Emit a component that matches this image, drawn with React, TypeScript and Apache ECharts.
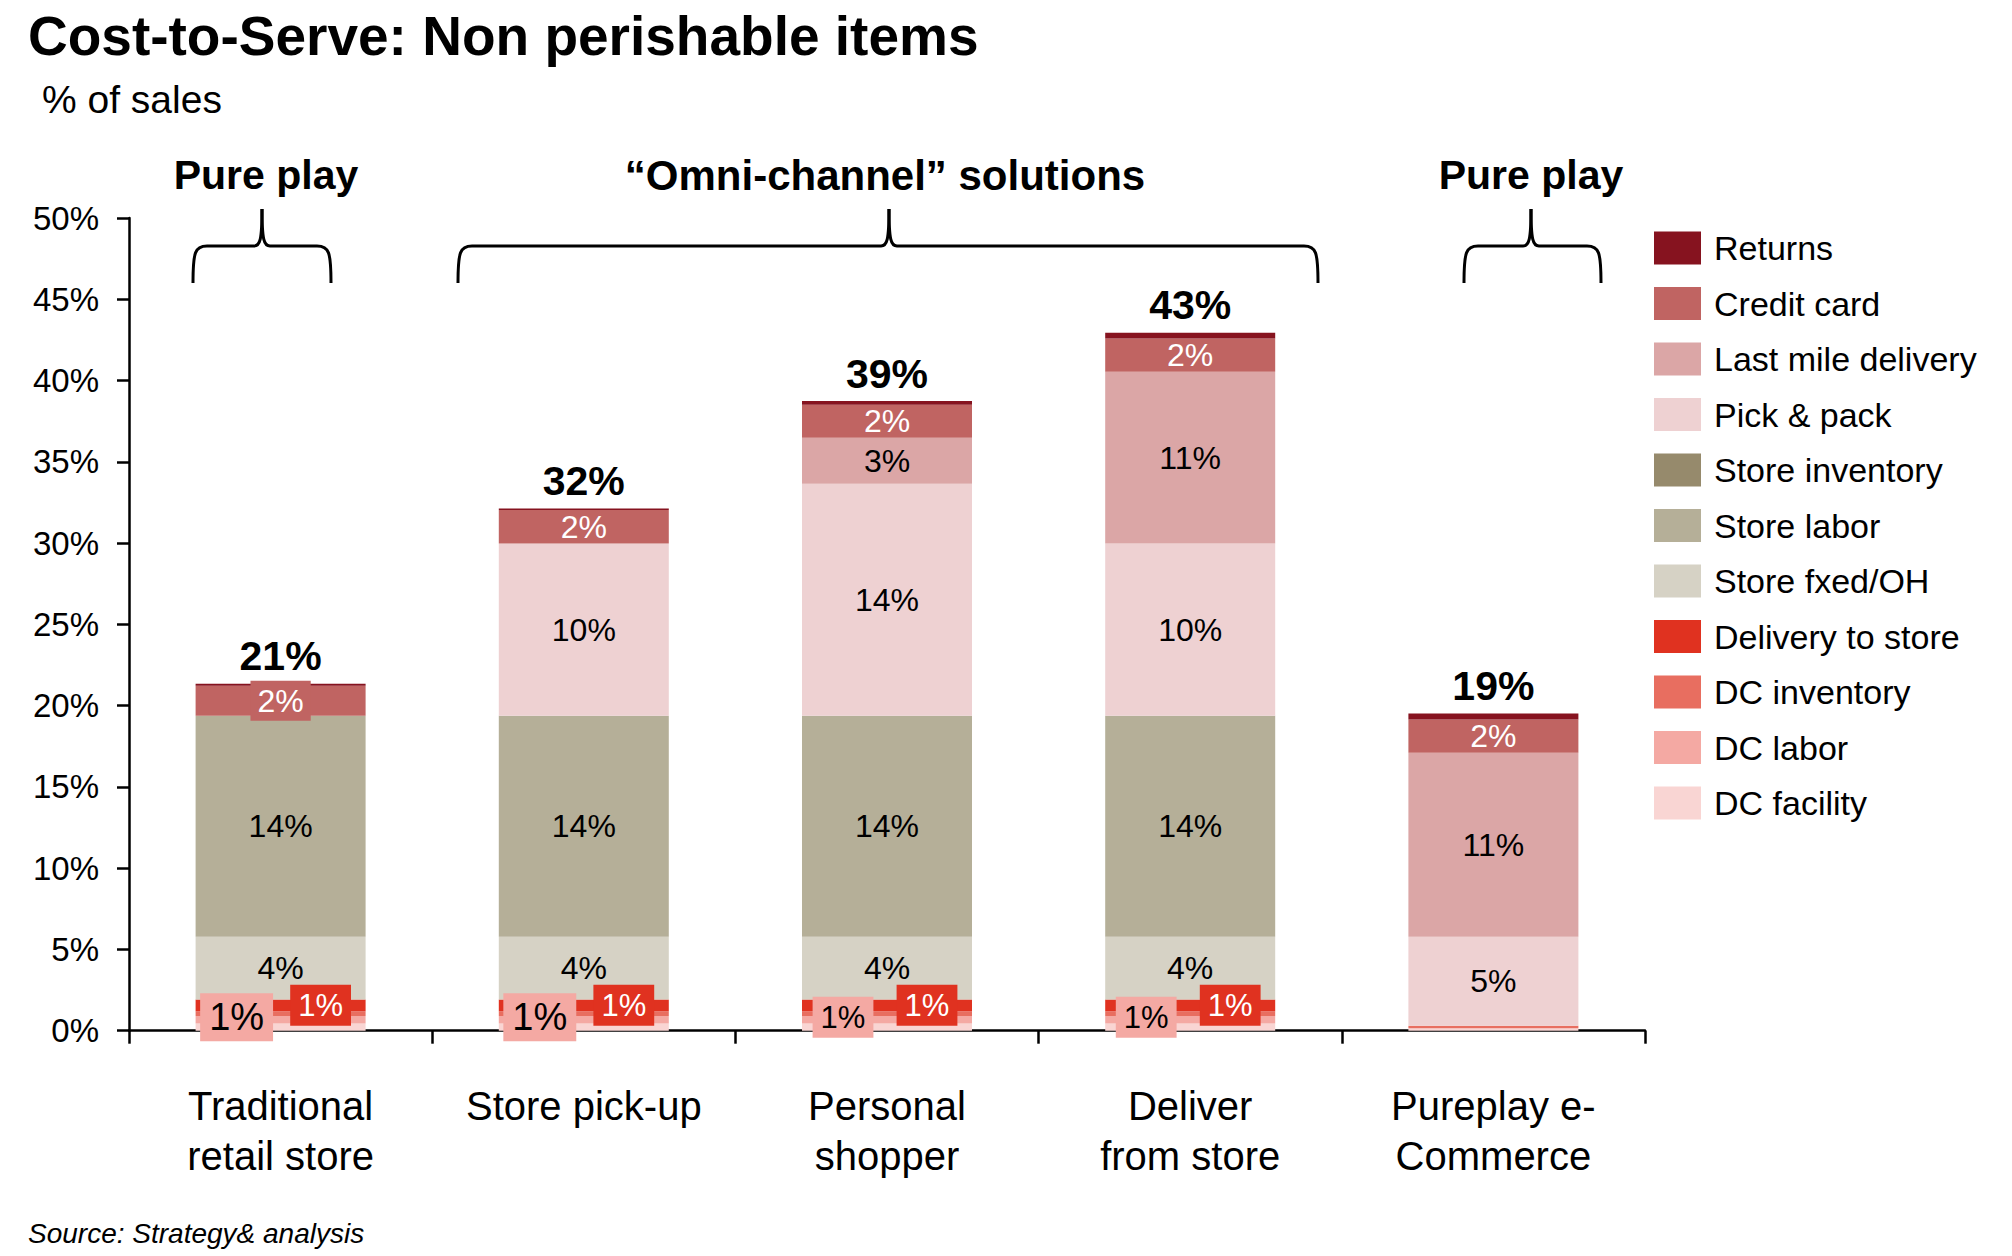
import React, { useEffect, useRef } from "react";
import * as echarts from "echarts";

const categories = [
  "Traditional\nretail store",
  "Store pick-up",
  "Personal\nshopper",
  "Deliver\nfrom store",
  "Pureplay e-\nCommerce",
];

const yTicks = [0, 50, 5];

// stacked from bottom to top (% of sales)
const dcFacility = [0.45, 0.45, 0.45, 0.45, 0.15];
const dcLabor = [0.45, 0.45, 0.45, 0.45, 0];
const dcInventory = [0.3, 0.3, 0.3, 0.3, 0.15];
const deliveryToStore = [0.72, 0.72, 0.72, 0.72, 0];
const storeFixed = [3.86, 3.86, 3.86, 3.86, 0];
const storeLabor = [13.59, 13.59, 13.59, 13.59, 0];
const storeInventory = [0, 0, 0, 0, 0];
const pickPack = [0, 10.6, 14.28, 10.6, 5.48];
const lastMile = [0, 0, 2.83, 10.57, 11.32];
const creditCard = [1.85, 2.07, 2.03, 2.05, 2.05];
const returns = [0.12, 0.08, 0.23, 0.35, 0.37];

const dcLaborLabels = ["1%", "1%", "1%", "1%", ""];
const deliveryLabels = ["1%", "1%", "1%", "1%", ""];
const storeFixedLabels = ["4%", "4%", "4%", "4%", ""];
const storeLaborLabels = ["14%", "14%", "14%", "14%", ""];
const pickPackLabels = ["", "10%", "14%", "10%", "5%"];
const lastMileLabels = ["", "", "3%", "11%", "11%"];
const creditCardLabels = ["2%", "2%", "2%", "2%", "2%"];
const totalLabels = ["21%", "32%", "39%", "43%", "19%"];

const groupLabels = ["Pure play", "\u201cOmni-channel\u201d solutions", "Pure play"];

const FONT = "Liberation Sans, Arial, Helvetica, sans-serif";

const COLORS = {
  returns: "#86131f",
  creditCard: "#c06462",
  lastMile: "#dba6a6",
  pickPack: "#eed1d2",
  storeInventory: "#968a6c",
  storeLabor: "#b5af98",
  storeFixed: "#d6d2c5",
  delivery: "#e03220",
  dcInventory: "#e86e60",
  dcLabor: "#f4a9a3",
  dcFacility: "#f9d5d3",
};

function brace(x0: number, x1: number, tip: number, yTop: number, yMid: number, yBot: number) {
  const st = { stroke: "#000", lineWidth: 3, fill: null as any };
  return [
    { type: "bezierCurve", shape: { x1: x0, y1: yBot, cpx1: x0, cpy1: yMid + 6, cpx2: x0 + 2, cpy2: yMid, x2: x0 + 14, y2: yMid }, style: st },
    { type: "line", shape: { x1: x0 + 14, y1: yMid, x2: tip - 8, y2: yMid }, style: st },
    { type: "bezierCurve", shape: { x1: tip - 8, y1: yMid, cpx1: tip - 2, cpy1: yMid, cpx2: tip, cpy2: yMid - 6, x2: tip, y2: yTop }, style: st },
    { type: "bezierCurve", shape: { x1: tip + 8, y1: yMid, cpx1: tip + 2, cpy1: yMid, cpx2: tip, cpy2: yMid - 6, x2: tip, y2: yTop }, style: st },
    { type: "line", shape: { x1: tip + 8, y1: yMid, x2: x1 - 14, y2: yMid }, style: st },
    { type: "bezierCurve", shape: { x1: x1, y1: yBot, cpx1: x1, cpy1: yMid + 6, cpx2: x1 - 2, cpy2: yMid, x2: x1 - 14, y2: yMid }, style: st },
  ];
}

export default function App() {
  const ref = useRef<HTMLDivElement>(null);

  useEffect(() => {
    document.body.style.margin = "0";
    if (!ref.current) return;
    const chart = echarts.init(ref.current, undefined, { renderer: "svg" });

    const segLabel = (labels: string[], color: string, extra: any = {}) => ({
      show: true,
      position: "inside",
      color,
      fontFamily: FONT,
      fontSize: 32,
      formatter: (p: any) => labels[p.dataIndex] || "",
      ...extra,
    });

    const mk = (
      name: string,
      values: number[],
      color: string,
      label: any,
      labels?: string[],
      dataMap?: (v: number, i: number) => any
    ) => ({
      name,
      type: "bar",
      stack: "total",
      barWidth: 170,
      itemStyle: { color },
      label,
      emphasis: { disabled: true },
      data: values.map((v, i) => {
        if (labels && !labels[i]) return { value: v, label: { show: false } };
        return dataMap ? dataMap(v, i) : v;
      }),
    });

    const series = [
      mk("DC facility", dcFacility, COLORS.dcFacility, { show: false }),
      mk(
        "DC labor",
        dcLabor,
        COLORS.dcLabor,
        segLabel(dcLaborLabels, "#000", {
          backgroundColor: COLORS.dcLabor,
          offset: [-44, -2.5],
          fontSize: 31,
          lineHeight: 33,
          padding: [4, 8],
        }),
        dcLaborLabels,
        (v, i) =>
          i < 2
            ? { value: v, label: { fontSize: 38, lineHeight: 40, padding: [4, 9] } }
            : v
      ),
      mk("DC inventory", dcInventory, COLORS.dcInventory, { show: false }),
      mk(
        "Delivery to store",
        deliveryToStore,
        COLORS.delivery,
        segLabel(deliveryLabels, "#fff", {
          backgroundColor: COLORS.delivery,
          offset: [40, 0],
          fontSize: 31,
          lineHeight: 33,
          padding: [4, 8],
        }),
        deliveryLabels
      ),
      mk("Store fxed/OH", storeFixed, COLORS.storeFixed, segLabel(storeFixedLabels, "#000"), storeFixedLabels),
      mk("Store labor", storeLabor, COLORS.storeLabor, segLabel(storeLaborLabels, "#000"), storeLaborLabels),
      mk("Store inventory", storeInventory, COLORS.storeInventory, { show: false }),
      mk("Pick & pack", pickPack, COLORS.pickPack, segLabel(pickPackLabels, "#000"), pickPackLabels),
      mk("Last mile delivery", lastMile, COLORS.lastMile, segLabel(lastMileLabels, "#000"), lastMileLabels),
      mk(
        "Credit card",
        creditCard,
        COLORS.creditCard,
        segLabel(creditCardLabels, "#fff"),
        creditCardLabels,
        (v, i) =>
          i === 0
            ? { value: v, label: { backgroundColor: COLORS.creditCard, padding: [3, 7], lineHeight: 34 } }
            : v
      ),
      mk("Returns", returns, COLORS.returns, {
        show: true,
        position: "top",
        distance: 7,
        color: "#000",
        fontFamily: FONT,
        fontSize: 41,
        fontWeight: "bold",
        formatter: (p: any) => totalLabels[p.dataIndex],
      }),
    ];

    const legendOrder = [
      "Returns",
      "Credit card",
      "Last mile delivery",
      "Pick & pack",
      "Store inventory",
      "Store labor",
      "Store fxed/OH",
      "Delivery to store",
      "DC inventory",
      "DC labor",
      "DC facility",
    ];

    const textEl = (text: string, x: number, y: number, size: number, weight: string, align: string, style: string = "normal") => ({
      type: "text",
      x,
      y,
      style: {
        text,
        fill: "#000",
        fontFamily: FONT,
        fontSize: size,
        fontWeight: weight,
        fontStyle: style,
        align,
        verticalAlign: "middle",
      },
    });

    chart.setOption({
      animation: false,
      backgroundColor: "#fff",
      grid: { left: 129, top: 218, right: 367, bottom: 225.3 },
      legend: {
        orient: "vertical",
        left: 1649,
        top: 226,
        itemWidth: 47,
        itemHeight: 33,
        itemGap: 21.5,
        icon: "rect",
        selectedMode: false,
        data: legendOrder,
        textStyle: {
          fontFamily: FONT,
          fontSize: 34,
          lineHeight: 33,
          color: "#000",
          padding: [0, 0, 0, 8],
        },
      },
      xAxis: {
        type: "category",
        data: categories,
        axisLine: { show: true, lineStyle: { color: "#000", width: 2.5 } },
        axisTick: { show: true, length: 13, lineStyle: { color: "#000", width: 2.5 } },
        axisLabel: {
          interval: 0,
          color: "#000",
          fontFamily: FONT,
          fontSize: 40,
          lineHeight: 50,
          margin: 50,
        },
      },
      yAxis: {
        type: "value",
        min: yTicks[0],
        max: yTicks[1],
        interval: yTicks[2],
        splitLine: { show: false },
        axisLine: { show: true, lineStyle: { color: "#000", width: 2.5 } },
        axisTick: { show: true, length: 12, lineStyle: { color: "#000", width: 2.5 } },
        axisLabel: {
          formatter: "{value}%",
          color: "#000",
          fontFamily: FONT,
          fontSize: 33,
          margin: 30,
        },
      },
      graphic: [
        textEl("Cost-to-Serve: Non perishable items", 28, 36, 55, "bold", "left"),
        textEl("% of sales", 42, 99, 39, "normal", "left"),
        textEl(groupLabels[0], 266, 175, 41, "bold", "center"),
        textEl(groupLabels[1], 885, 175, 42, "bold", "center"),
        textEl(groupLabels[2], 1531, 175, 41, "bold", "center"),
        ...brace(193, 331, 262, 209, 246, 283),
        ...brace(458, 1318, 889, 209, 246, 283),
        ...brace(1464, 1601, 1531, 209, 246, 283),
        textEl("Source: Strategy& analysis", 28, 1233, 28, "normal", "left", "italic"),
      ],
      series,
    });

    return () => chart.dispose();
  }, []);

  return <div ref={ref} style={{ width: 2012, height: 1256 }} />;
}
